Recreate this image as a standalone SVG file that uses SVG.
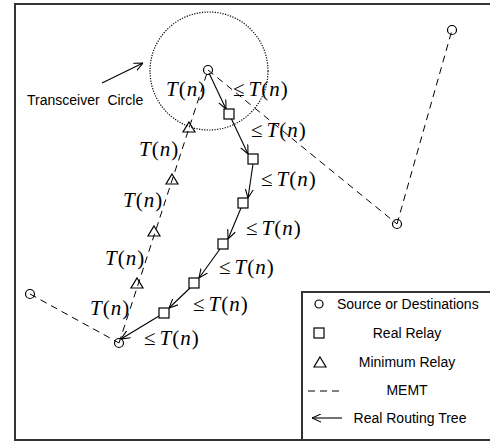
<svg xmlns="http://www.w3.org/2000/svg" width="490" height="443" viewBox="0 0 490 443">
  <defs>
    <marker id="vhead" viewBox="0 0 10 10" refX="10" refY="5" markerWidth="9" markerHeight="9" markerUnits="userSpaceOnUse" orient="auto">
      <path d="M0,0.5 L10,5 L0,9.5" fill="none" stroke="#000" stroke-width="1.2"/>
    </marker>
  </defs>
  <style>
    .frame { fill: #fff; stroke: #333; stroke-width: 2; }
    .memt { fill: none; stroke: #000; stroke-width: 1; stroke-dasharray: 7 5; }
    .route { fill: none; stroke: #000; stroke-width: 1.1; marker-end: url(#vhead); }
    .ring { fill: none; stroke: #000; stroke-width: 1.2; stroke-dasharray: 1.2 1.4; }
    .node { fill: #fff; stroke: #000; stroke-width: 1.2; }
    .tri { fill: none; stroke: #000; stroke-width: 1.2; }
    .eq { font-family: "Liberation Serif", "Times New Roman", serif; font-size: 21px; fill: #000; letter-spacing: 1px; }
    .it { font-style: italic; }
    .lab { font-family: "Liberation Sans", Arial, sans-serif; font-size: 14px; fill: #000; }
  </style>

  <!-- outer frame (right side runs past the canvas) -->
  <rect class="frame" x="15" y="4" width="490" height="436"/>

  <!-- transceiver range around the source -->
  <circle class="ring" cx="209" cy="71" r="59"/>

  <g id="connectors">
    <!-- MEMT edges -->
    <line class="memt" x1="208" y1="70" x2="397" y2="224"/>
    <line class="memt" x1="397" y1="224" x2="452" y2="30"/>
    <line class="memt" x1="30" y1="294" x2="119" y2="343"/>
    <line class="memt" x1="119" y1="343" x2="208" y2="70"/>
    <!-- real routing tree -->
    <line class="route" x1="209" y1="73" x2="226" y2="109"/>
    <line class="route" x1="231" y1="118" x2="248" y2="154"/>
    <line class="route" x1="253" y1="164" x2="248" y2="198"/>
    <line class="route" x1="241" y1="208" x2="228" y2="239"/>
    <line class="route" x1="220" y1="249" x2="199" y2="278"/>
    <line class="route" x1="190" y1="288" x2="169" y2="308"/>
    <line class="route" x1="159" y1="316" x2="121" y2="339"/>
    <!-- pointer to the circle -->
    <line class="route" x1="102" y1="83" x2="143" y2="63"/>
  </g>

  <!-- sources / destinations -->
  <g id="src"><circle class="tri" cx="208" cy="70" r="4.5"/></g>
  <g id="dst-ne"><circle class="tri" cx="452" cy="30" r="4.5"/></g>
  <g id="dst-e"><circle class="tri" cx="397" cy="224" r="4.5"/></g>
  <g id="dst-w"><circle class="tri" cx="30" cy="294" r="4.5"/></g>
  <g id="dst-s"><circle class="tri" cx="119" cy="343" r="4.5"/></g>

  <!-- real relays -->
  <g id="rr1"><rect class="node" x="224" y="109" width="10" height="10"/></g>
  <g id="rr2"><rect class="node" x="248" y="154" width="10" height="10"/></g>
  <g id="rr3"><rect class="node" x="238" y="198" width="10" height="10"/></g>
  <g id="rr4"><rect class="node" x="218" y="239" width="10" height="10"/></g>
  <g id="rr5"><rect class="node" x="189" y="278" width="10" height="10"/></g>
  <g id="rr6"><rect class="node" x="159" y="308" width="10" height="10"/></g>

  <!-- minimum relays -->
  <g id="mr1"><path class="tri" d="M189,122 L195,132 L183,132 Z"/></g>
  <g id="mr2"><path class="tri" d="M172,174 L178,184 L166,184 Z"/></g>
  <g id="mr3"><path class="tri" d="M154,226 L160,236 L148,236 Z"/></g>
  <g id="mr4"><path class="tri" d="M137,278 L143,288 L131,288 Z"/></g>

  <!-- hop bounds -->
  <g id="hop-labels" class="eq">
    <text x="166" y="96"><tspan class="it">T</tspan>(<tspan class="it">n</tspan>)</text>
    <text x="139" y="156"><tspan class="it">T</tspan>(<tspan class="it">n</tspan>)</text>
    <text x="123" y="207"><tspan class="it">T</tspan>(<tspan class="it">n</tspan>)</text>
    <text x="105" y="265"><tspan class="it">T</tspan>(<tspan class="it">n</tspan>)</text>
    <text x="90" y="315"><tspan class="it">T</tspan>(<tspan class="it">n</tspan>)</text>
    <text x="233" y="96">≤<tspan class="it" dx="3">T</tspan>(<tspan class="it">n</tspan>)</text>
    <text x="251" y="137">≤<tspan class="it" dx="3">T</tspan>(<tspan class="it">n</tspan>)</text>
    <text x="261" y="186">≤<tspan class="it" dx="3">T</tspan>(<tspan class="it">n</tspan>)</text>
    <text x="246" y="235">≤<tspan class="it" dx="3">T</tspan>(<tspan class="it">n</tspan>)</text>
    <text x="219" y="274">≤<tspan class="it" dx="3">T</tspan>(<tspan class="it">n</tspan>)</text>
    <text x="193" y="311">≤<tspan class="it" dx="3">T</tspan>(<tspan class="it">n</tspan>)</text>
    <text x="144" y="345">≤<tspan class="it" dx="3">T</tspan>(<tspan class="it">n</tspan>)</text>
  </g>

  <text class="lab" x="27" y="105" xml:space="preserve">Transceiver  Circle</text>

  <!-- legend -->
  <g id="legend">
    <rect class="frame" x="302" y="292" width="200" height="148"/>
    <circle class="tri" cx="319" cy="304" r="4"/>
    <text class="lab" x="337" y="309">Source or Destinations</text>
    <rect class="node" x="314" y="328" width="10" height="10"/>
    <text class="lab" x="407" y="338" text-anchor="middle">Real Relay</text>
    <path class="tri" d="M320,357 L326,367 L314,367 Z"/>
    <text class="lab" x="407" y="367" text-anchor="middle">Minimum Relay</text>
    <line class="memt" x1="308" y1="391" x2="343" y2="391" stroke-dasharray="7 6"/>
    <text class="lab" x="407" y="395" text-anchor="middle">MEMT</text>
    <line class="route" x1="342" y1="418" x2="312" y2="418"/>
    <text class="lab" x="410" y="423" text-anchor="middle">Real Routing Tree</text>
  </g>
</svg>
